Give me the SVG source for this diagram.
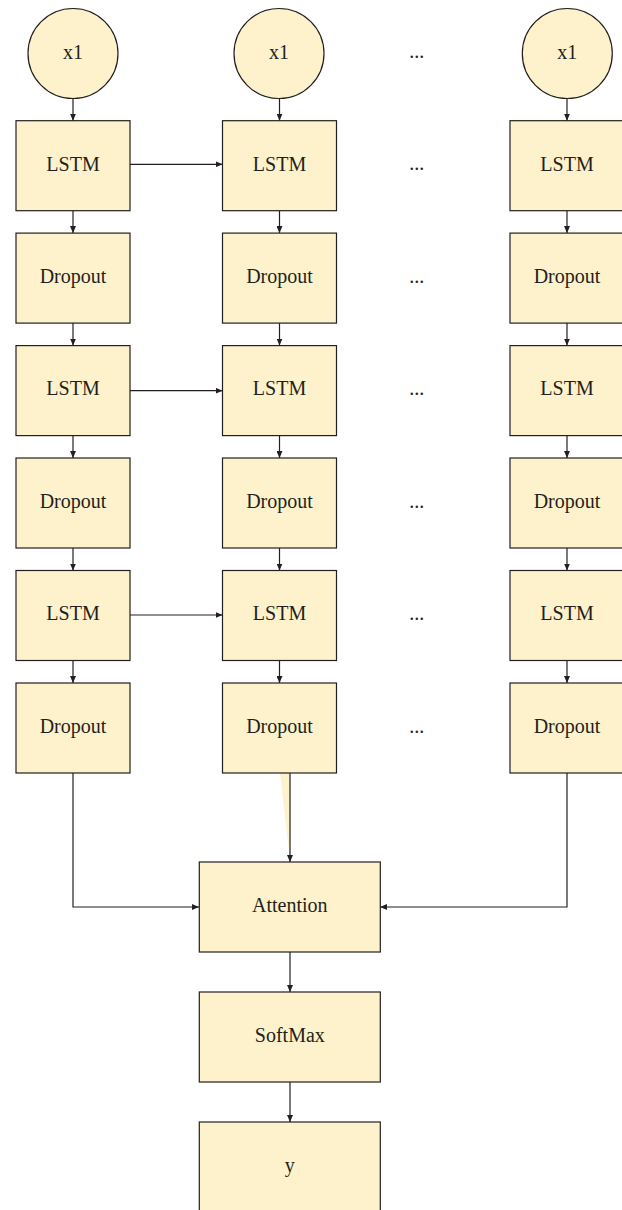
<svg xmlns="http://www.w3.org/2000/svg" width="622" height="1210" viewBox="0 0 622 1210">
<style>
.n{fill:#fdf2cc;stroke:#231f20;stroke-width:1.2}
.t{font-family:"Liberation Serif","Times New Roman",serif;font-size:20px;fill:#231f20;text-anchor:middle}
.c{fill:none;stroke:#231f20;stroke-width:1.2}
.a{marker-end:url(#ah)}
</style>
<defs>
<marker id="ah" viewBox="0 0 7 6" refX="7" refY="3" markerWidth="7" markerHeight="6" markerUnits="userSpaceOnUse" orient="auto">
<path d="M0,0 L7,3 L0,6 Z" fill="#231f20"/>
</marker>
</defs>
<rect width="622" height="1210" fill="#ffffff"/>
<polygon points="280,773 290,773 290,860" fill="#fdf2cc"/>
<g id="connectors">
<line class="c a" x1="73" y1="99" x2="73" y2="120.7"/>
<line class="c a" x1="279.5" y1="99" x2="279.5" y2="120.7"/>
<line class="c a" x1="567" y1="99" x2="567" y2="120.7"/>
<line class="c a" x1="73" y1="210.7" x2="73" y2="233.1"/>
<line class="c a" x1="279.5" y1="210.7" x2="279.5" y2="233.1"/>
<line class="c a" x1="567" y1="210.7" x2="567" y2="233.1"/>
<line class="c a" x1="73" y1="323.1" x2="73" y2="345.6"/>
<line class="c a" x1="279.5" y1="323.1" x2="279.5" y2="345.6"/>
<line class="c a" x1="567" y1="323.1" x2="567" y2="345.6"/>
<line class="c a" x1="73" y1="435.6" x2="73" y2="458"/>
<line class="c a" x1="279.5" y1="435.6" x2="279.5" y2="458"/>
<line class="c a" x1="567" y1="435.6" x2="567" y2="458"/>
<line class="c a" x1="73" y1="548" x2="73" y2="570.5"/>
<line class="c a" x1="279.5" y1="548" x2="279.5" y2="570.5"/>
<line class="c a" x1="567" y1="548" x2="567" y2="570.5"/>
<line class="c a" x1="73" y1="660.5" x2="73" y2="683"/>
<line class="c a" x1="279.5" y1="660.5" x2="279.5" y2="683"/>
<line class="c a" x1="567" y1="660.5" x2="567" y2="683"/>
<line class="c a" x1="130" y1="164.3" x2="222.5" y2="164.3"/>
<line class="c a" x1="130" y1="390.7" x2="222.5" y2="390.7"/>
<line class="c a" x1="130" y1="615" x2="222.5" y2="615"/>
<polyline class="c a" points="73,773 73,907 199,907"/>
<polyline class="c a" points="567,773 567,907 380,907"/>
<line class="c a" x1="290" y1="773" x2="290" y2="862"/>
<line class="c a" x1="290" y1="952" x2="290" y2="992"/>
<line class="c a" x1="290" y1="1082" x2="290" y2="1122"/>
</g>
<g id="x1_a"><circle class="n" cx="73" cy="53.5" r="45"/><text class="t" x="73" y="58.5">x1</text></g>
<g id="x1_b"><circle class="n" cx="279" cy="53.5" r="45"/><text class="t" x="279" y="58.5">x1</text></g>
<g id="x1_c"><circle class="n" cx="567.3" cy="53.5" r="45"/><text class="t" x="567.3" y="58.5">x1</text></g>
<g id="lstm1_a"><rect class="n" x="16" y="120.7" width="114" height="90"/><text class="t" x="73" y="170.5">LSTM</text></g>
<g id="lstm1_b"><rect class="n" x="222.5" y="120.7" width="114" height="90"/><text class="t" x="279.5" y="170.5">LSTM</text></g>
<g id="lstm1_c"><rect class="n" x="510" y="120.7" width="114" height="90"/><text class="t" x="567" y="170.5">LSTM</text></g>
<g id="drop1_a"><rect class="n" x="16" y="233.1" width="114" height="90"/><text class="t" x="73" y="283">Dropout</text></g>
<g id="drop1_b"><rect class="n" x="222.5" y="233.1" width="114" height="90"/><text class="t" x="279.5" y="283">Dropout</text></g>
<g id="drop1_c"><rect class="n" x="510" y="233.1" width="114" height="90"/><text class="t" x="567" y="283">Dropout</text></g>
<g id="lstm2_a"><rect class="n" x="16" y="345.6" width="114" height="90"/><text class="t" x="73" y="395.4">LSTM</text></g>
<g id="lstm2_b"><rect class="n" x="222.5" y="345.6" width="114" height="90"/><text class="t" x="279.5" y="395.4">LSTM</text></g>
<g id="lstm2_c"><rect class="n" x="510" y="345.6" width="114" height="90"/><text class="t" x="567" y="395.4">LSTM</text></g>
<g id="drop2_a"><rect class="n" x="16" y="458" width="114" height="90"/><text class="t" x="73" y="507.9">Dropout</text></g>
<g id="drop2_b"><rect class="n" x="222.5" y="458" width="114" height="90"/><text class="t" x="279.5" y="507.9">Dropout</text></g>
<g id="drop2_c"><rect class="n" x="510" y="458" width="114" height="90"/><text class="t" x="567" y="507.9">Dropout</text></g>
<g id="lstm3_a"><rect class="n" x="16" y="570.5" width="114" height="90"/><text class="t" x="73" y="620.3">LSTM</text></g>
<g id="lstm3_b"><rect class="n" x="222.5" y="570.5" width="114" height="90"/><text class="t" x="279.5" y="620.3">LSTM</text></g>
<g id="lstm3_c"><rect class="n" x="510" y="570.5" width="114" height="90"/><text class="t" x="567" y="620.3">LSTM</text></g>
<g id="drop3_a"><rect class="n" x="16" y="683" width="114" height="90"/><text class="t" x="73" y="732.8">Dropout</text></g>
<g id="drop3_b"><rect class="n" x="222.5" y="683" width="114" height="90"/><text class="t" x="279.5" y="732.8">Dropout</text></g>
<g id="drop3_c"><rect class="n" x="510" y="683" width="114" height="90"/><text class="t" x="567" y="732.8">Dropout</text></g>
<g id="dots">
<text class="t" x="416.7" y="58">...</text>
<text class="t" x="416.7" y="170">...</text>
<text class="t" x="416.7" y="282.5">...</text>
<text class="t" x="416.7" y="395">...</text>
<text class="t" x="416.7" y="507.5">...</text>
<text class="t" x="416.7" y="620">...</text>
<text class="t" x="416.7" y="732.5">...</text>
</g>
<g id="attention"><rect class="n" x="199.3" y="862" width="181" height="90"/><text class="t" x="289.8" y="912.3">Attention</text></g>
<g id="softmax"><rect class="n" x="199.3" y="992" width="181" height="90"/><text class="t" x="289.8" y="1041.5">SoftMax</text></g>
<g id="y"><rect class="n" x="199.3" y="1122" width="181" height="90"/><text class="t" x="289.8" y="1172">y</text></g>
</svg>
